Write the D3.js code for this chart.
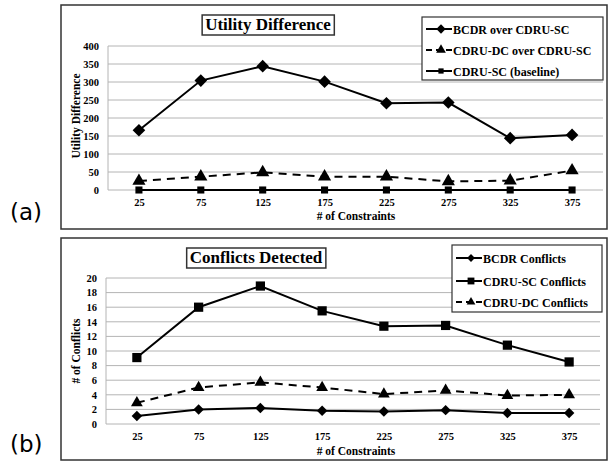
<!DOCTYPE html>
<html>
<head>
<meta charset="utf-8">
<script src="https://cdn.jsdelivr.net/npm/d3@7"></script>
<style>
  body { margin: 0; background: #fff; }
  svg { display: block; }
</style>
</head>
<body>
<svg id="chart" width="613" height="461"></svg>
<script>
const constraints = ["25", "75", "125", "175", "225", "275", "325", "375"]

// panel (a) - utility difference
const bcdrOverSc = [166, 304, 344, 301, 241, 243, 144, 153]
const dcOverSc = [25, 37, 49, 37, 37, 24, 26, 54]
const scBaseline = [0, 0, 0, 0, 0, 0, 0, 0]
const utilityTicks = [0, 50, 100, 150, 200, 250, 300, 350, 400]

// panel (b) - conflicts detected
const bcdrConflicts = [1.1, 2.0, 2.2, 1.8, 1.7, 1.9, 1.5, 1.5]
const scConflicts = [9.1, 16.0, 18.9, 15.5, 13.4, 13.5, 10.8, 8.5]
const dcConflicts = [2.9, 5.0, 5.7, 5.0, 4.1, 4.6, 3.9, 4.0]
const conflictTicks = [0, 2, 4, 6, 8, 10, 12, 14, 16, 18, 20]

const SERIF = "'Liberation Serif', 'Times New Roman', serif"

const svg = d3.select("#chart")

// square-ish diamond (d3's own is too tall)
const diamondShape = {
  draw(ctx, size) {
    const r = Math.sqrt(size / 2)
    ctx.moveTo(0, -r); ctx.lineTo(r, 0); ctx.lineTo(0, r); ctx.lineTo(-r, 0); ctx.closePath()
  }
}
const symbols = {
  diamond: d3.symbol().type(diamondShape),
  triangle: d3.symbol().type(d3.symbolTriangle),
  square: d3.symbol().type(d3.symbolSquare),
}

function serif(sel, size) {
  return sel.style("font-family", SERIF).style("font-weight", "bold")
    .style("font-size", size + "px").attr("fill", "#000")
}

function panel(cfg) {
  const g = svg.append("g")

  // outer frame
  g.append("rect")
    .attr("x", cfg.frame[0]).attr("y", cfg.frame[1])
    .attr("width", cfg.frame[2]).attr("height", cfg.frame[3])
    .attr("fill", "none").attr("stroke", "#333").attr("stroke-width", 1.5)

  g.append("text")
    .attr("x", 10).attr("y", cfg.tagY)
    .style("font-family", "'DejaVu Sans', sans-serif")
    .style("font-size", "23px")
    .text(cfg.tag)

  const x = d3.scalePoint().domain(constraints).range(cfg.xRange).padding(0.5)
  const y = d3.scaleLinear().domain(cfg.yDomain).range(cfg.yRange)

  // gridlines
  g.append("g").selectAll("line")
    .data(cfg.ticks)
    .join("line")
      .attr("x1", cfg.xRange[0]).attr("x2", cfg.xRange[1])
      .attr("y1", d => y(d)).attr("y2", d => y(d))
      .attr("stroke", "#b4b4b4").attr("stroke-width", 1)
  g.append("line")
    .attr("x1", cfg.xRange[0]).attr("x2", cfg.xRange[0])
    .attr("y1", cfg.yRange[0]).attr("y2", cfg.yRange[1])
    .attr("stroke", "#b4b4b4")

  const yAxis = g.append("g")
    .attr("transform", `translate(${cfg.xRange[0]},0)`)
    .call(d3.axisLeft(y).tickValues(cfg.ticks).tickSize(0).tickPadding(9))
  yAxis.select(".domain").remove()
  serif(yAxis.selectAll("text"), 10.5)

  const xAxis = g.append("g")
    .attr("transform", `translate(0,${cfg.yRange[0]})`)
    .call(d3.axisBottom(x).tickSize(0).tickPadding(9))
  xAxis.select(".domain").remove()
  serif(xAxis.selectAll("text"), 10.5)

  serif(g.append("text"), 11.5)
    .attr("x", 356).attr("y", cfg.xLabelY)
    .attr("text-anchor", "middle")
    .text("# of Constraints")

  serif(g.append("text"), 11.5)
    .attr("transform", `translate(80,${cfg.yLabelY}) rotate(-90)`)
    .attr("text-anchor", "middle")
    .text(cfg.yLabel)

  const line = d3.line()
    .x((d, i) => x(constraints[i]))
    .y(d => y(d))

  cfg.series.forEach(s => {
    g.append("path")
      .datum(s.values)
      .attr("d", line)
      .attr("fill", "none")
      .attr("stroke", "#000")
      .attr("stroke-width", 2)
      .attr("stroke-dasharray", s.dashed ? "8,6" : null)
    g.append("g").selectAll("path")
      .data(s.values)
      .join("path")
        .attr("transform", (d, i) => `translate(${x(constraints[i])},${y(d)})`)
        .attr("d", symbols[s.marker].size(s.size))
        .attr("fill", "#000")
  })

  // title box
  const tg = g.append("g")
  const tbox = tg.append("rect")
  const t = serif(tg.append("text"), 17)
    .attr("x", cfg.titlePos[0]).attr("y", cfg.titlePos[1])
    .attr("text-anchor", "middle")
    .text(cfg.title)
  const tb = t.node().getBBox()
  tbox
    .attr("x", tb.x - 3).attr("y", tb.y)
    .attr("width", tb.width + 6).attr("height", tb.height + 1)
    .attr("fill", "#fff").attr("stroke", "#333").attr("stroke-width", 1.5)

  // legend
  const lg = g.append("g")
  lg.append("rect")
    .attr("x", cfg.legend[0]).attr("y", cfg.legend[1])
    .attr("width", cfg.legend[2]).attr("height", cfg.legend[3])
    .attr("fill", "#fff").attr("stroke", "#333").attr("stroke-width", 1.2)
  cfg.series.forEach((s, i) => {
    const ly = cfg.legendRows[i]
    const lx = cfg.legend[0] + 4
    lg.append("line")
      .attr("x1", lx).attr("x2", lx + 26)
      .attr("y1", ly).attr("y2", ly)
      .attr("stroke", "#000").attr("stroke-width", 2)
      .attr("stroke-dasharray", s.dashed ? "6,4" : null)
    lg.append("path")
      .attr("transform", `translate(${lx + 15},${ly})`)
      .attr("d", symbols[s.marker].size(s.size * 0.55))
      .attr("fill", "#000")
    serif(lg.append("text"), 12)
      .attr("x", lx + 27).attr("y", ly + 4.5)
      .text(s.name)
  })
}

panel({
  frame: [61, 5, 546, 224],
  tag: "(a)", tagY: 220,
  xRange: [108, 603],
  yDomain: [0, 400], yRange: [190, 46],
  ticks: utilityTicks,
  xLabelY: 220,
  yLabel: "Utility Difference", yLabelY: 116,
  title: "Utility Difference", titlePos: [268, 30],
  legend: [422, 17, 181, 63],
  legendRows: [29, 50, 71],
  series: [
    { name: "BCDR over CDRU-SC", values: bcdrOverSc, marker: "diamond", size: 80 },
    { name: "CDRU-DC over CDRU-SC", values: dcOverSc, marker: "triangle", size: 75, dashed: true },
    { name: "CDRU-SC (baseline)", values: scBaseline, marker: "square", size: 50 },
  ],
})

panel({
  frame: [61, 238, 546, 222],
  tag: "(b)", tagY: 452,
  xRange: [106, 600],
  yDomain: [0, 20], yRange: [424, 278],
  ticks: conflictTicks,
  xLabelY: 455,
  yLabel: "# of Conflicts", yLabelY: 351,
  title: "Conflicts Detected", titlePos: [256, 263],
  legend: [452, 245, 150, 67],
  legendRows: [258, 281, 302],
  series: [
    { name: "BCDR Conflicts", values: bcdrConflicts, marker: "diamond", size: 55 },
    { name: "CDRU-SC Conflicts", values: scConflicts, marker: "square", size: 85 },
    { name: "CDRU-DC Conflicts", values: dcConflicts, marker: "triangle", size: 60, dashed: true },
  ],
})
</script>
</body>
</html>
